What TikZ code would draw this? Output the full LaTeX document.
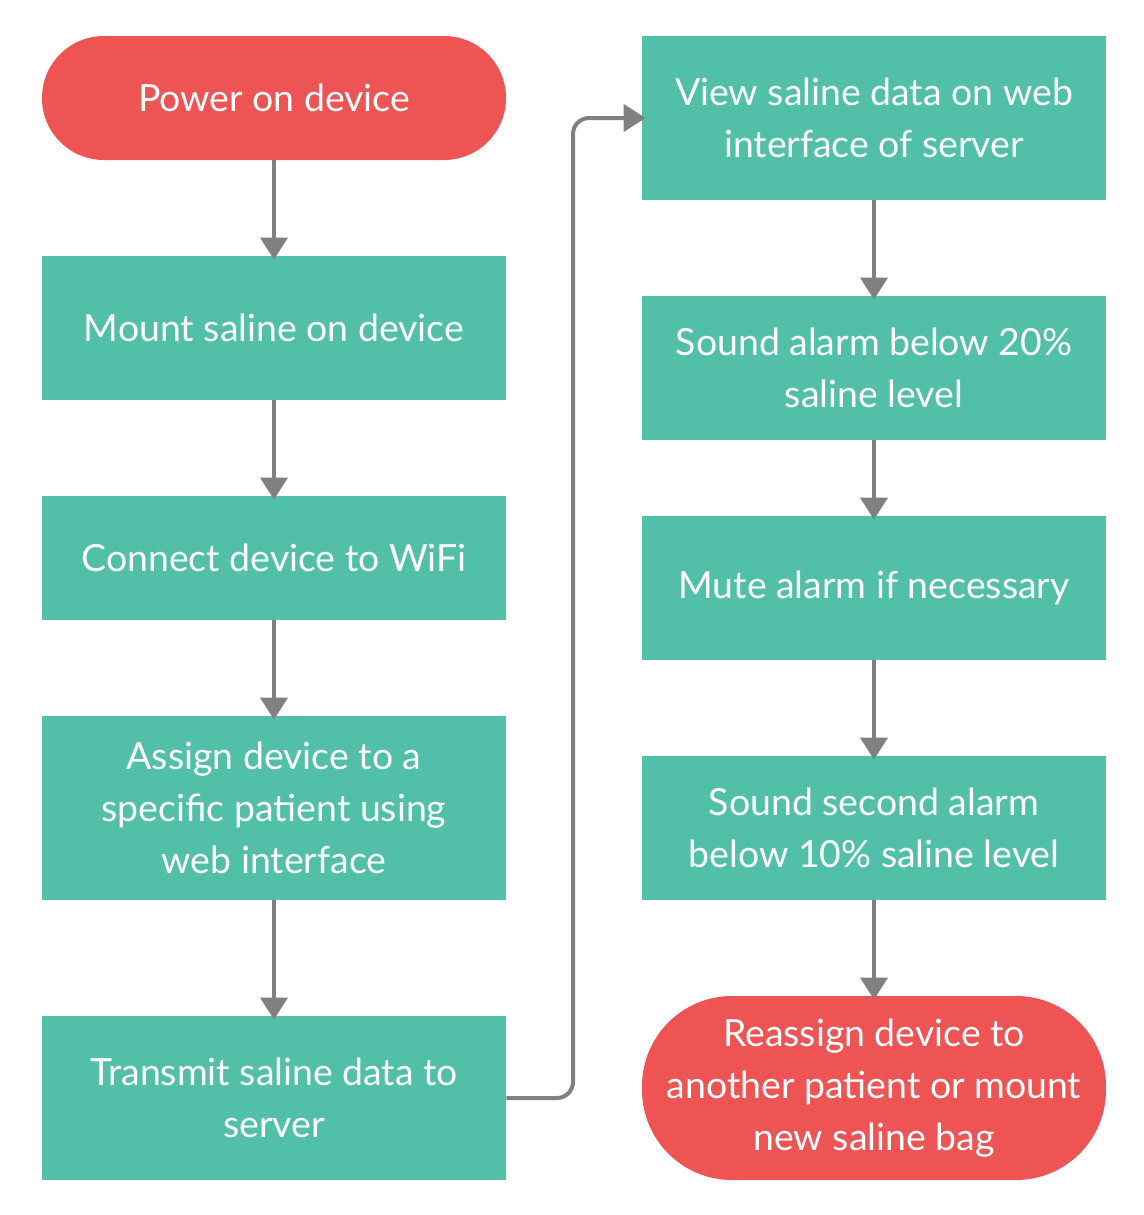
\documentclass[tikz,border=0pt]{standalone}
\usepackage{fontspec}
\setmainfont{Lato}
\usetikzlibrary{arrows.meta}
\definecolor{stepgreen}{HTML}{52C0A9}
\definecolor{termred}{HTML}{EF5454}
\definecolor{linegray}{HTML}{808080}
\begin{document}
\begin{tikzpicture}[x=0.5pt,y=-0.5pt,
  box/.style={fill=stepgreen, draw=none, minimum width=232pt, inner sep=0pt,
    text=white, align=center, font=\fontsize{18.7pt}{26pt}\selectfont},
  term/.style={box, fill=termred},
  conn/.style={draw=linegray, line width=2pt, shorten >=-2pt,
    -{Triangle[width=13.5pt,length=11pt]}}]
\useasboundingbox (0,0) rectangle (1144,1215);
% left column
\node[term, minimum height=62pt, rounded corners=30.9pt] (power) at (274,98) {Power on device};
\node[box, minimum height=72pt] (mount) at (274,328) {Mount saline on device};
\node[box, minimum height=62pt] (wifi) at (274,558) {Connect device to WiFi};
\node[box, minimum height=92pt] (assign) at (274,808) {Assign device to a\\specific patient using\\web interface};
\node[box, minimum height=82pt] (transmit) at (274,1098) {Transmit saline data to\\server};
% right column
\node[box, minimum height=82pt] (view) at (874,118) {View saline data on web\\interface of server};
\node[box, minimum height=72pt] (alarm) at (874,368) {Sound alarm below 20\%\\saline level};
\node[box, minimum height=72pt] (mute) at (874,588) {Mute alarm if necessary};
\node[box, minimum height=72pt] (second) at (874,828) {Sound second alarm\\below 10\% saline level};
\node[term, minimum height=92pt, rounded corners=45pt] (reassign) at (874,1088) {Reassign device to\\another patient or mount\\new saline bag};
% connectors
\draw[conn] (power) -- (mount);
\draw[conn] (mount) -- (wifi);
\draw[conn] (wifi) -- (assign);
\draw[conn] (assign) -- (transmit);
\coordinate (bend) at (573,600);
\draw[conn, rounded corners=8pt] (transmit.east) -- (bend |- transmit.east) -- (bend |- view.west) -- (view.west);
\draw[conn] (view) -- (alarm);
\draw[conn] (alarm) -- (mute);
\draw[conn] (mute) -- (second);
\draw[conn] (second) -- (reassign);
\end{tikzpicture}
\end{document}
